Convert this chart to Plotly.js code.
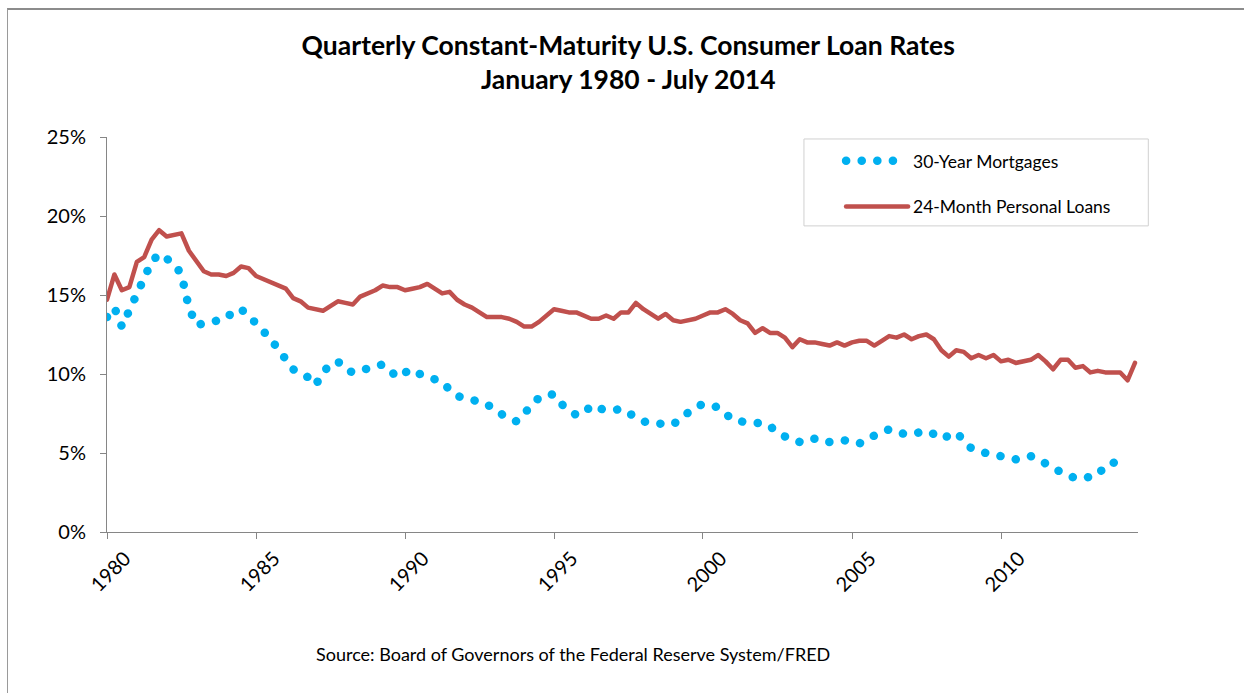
<!DOCTYPE html>
<html>
<head>
<meta charset="utf-8">
<script src="https://cdn.plot.ly/plotly-3.0.1.min.js"></script>
<style>
  body { margin: 0; background: #fff; }
  #frame { position: absolute; left: 7px; top: 8px; width: 1237px; height: 685px;
           border-top: 2px solid #8c8c8c; border-left: 1px solid #9a9a9a; }
  #chart { position: absolute; left: 0; top: 0; width: 1244px; height: 693px; }
  .js-line { stroke-linecap: round; stroke-linejoin: round; }
</style>
</head>
<body>
<div id="chart"></div>
<div id="frame"></div>
<script>
// Quarterly rates, 1980 Q1 through 2014 Q3 (percent)
let startYear = 1980;

let mortgageRates = [
    13.6, 14.2, 13.0, 14.0, 15.1, 16.1, 17.1, 17.6, 17.3, 17.0,
    16.3, 14.2, 13.1, 13.2, 13.4, 13.4, 13.5, 14.0, 14.1, 13.7,
    13.1, 12.7, 12.2, 11.5, 10.9, 10.3, 10.0, 9.8, 9.3, 10.1,
    10.6, 10.8, 10.3, 10.1, 10.2, 10.4, 10.5, 10.6, 10.2, 9.8,
    10.1, 10.3, 10.0, 9.8, 9.6, 9.5, 9.0, 8.6, 8.5, 8.4,
    8.3, 8.1, 7.7, 7.4, 7.2, 7.0, 7.5, 8.0, 8.5, 8.7,
    8.7, 8.1, 7.7, 7.4, 7.5, 8.0, 7.8, 7.7, 7.7, 7.8,
    7.5, 7.2, 7.0, 6.9, 6.9, 6.9, 6.8, 7.2, 7.6, 7.9,
    8.1, 8.0, 7.9, 7.5, 7.1, 7.0, 6.9, 6.9, 6.9, 6.7,
    6.3, 6.0, 5.8, 5.7, 5.9, 5.9, 5.7, 5.7, 5.8, 5.8,
    5.7, 5.6, 5.9, 6.1, 6.3, 6.5, 6.4, 6.2, 6.2, 6.3,
    6.4, 6.2, 5.9, 6.1, 6.3, 5.8, 5.3, 5.1, 5.0, 4.9,
    4.9, 4.8, 4.6, 4.7, 4.8, 4.6, 4.3, 4.1, 3.8, 3.6,
    3.4, 3.4, 3.5, 3.6, 4.2, 4.4, 4.3, 4.2
];

let personalLoanRates = [
    14.7, 16.3, 15.3, 15.5, 17.1, 17.4, 18.5, 19.1, 18.7, 18.8,
    18.9, 17.8, 17.2, 16.5, 16.3, 16.3, 16.2, 16.4, 16.8, 16.7,
    16.2, 16.0, 15.8, 15.6, 15.4, 14.8, 14.6, 14.2, 14.1, 14.0,
    14.3, 14.6, 14.5, 14.4, 14.9, 15.1, 15.3, 15.6, 15.5, 15.5,
    15.3, 15.4, 15.5, 15.7, 15.4, 15.1, 15.2, 14.7, 14.4, 14.2,
    13.9, 13.6, 13.6, 13.6, 13.5, 13.3, 13.0, 13.0, 13.3, 13.7,
    14.1, 14.0, 13.9, 13.9, 13.7, 13.5, 13.5, 13.7, 13.5, 13.9,
    13.9, 14.5, 14.1, 13.8, 13.5, 13.8, 13.4, 13.3, 13.4, 13.5,
    13.7, 13.9, 13.9, 14.1, 13.8, 13.4, 13.2, 12.6, 12.9, 12.6,
    12.6, 12.3, 11.7, 12.2, 12.0, 12.0, 11.9, 11.8, 12.0, 11.8,
    12.0, 12.1, 12.1, 11.8, 12.1, 12.4, 12.3, 12.5, 12.2, 12.4,
    12.5, 12.2, 11.5, 11.1, 11.5, 11.4, 11.0, 11.2, 11.0, 11.2,
    10.8, 10.9, 10.7, 10.8, 10.9, 11.2, 10.8, 10.3, 10.9, 10.9,
    10.4, 10.5, 10.1, 10.2, 10.1, 10.1, 10.1, 9.6, 10.7
];

let tickYears = ['1980', '1985', '1990', '1995', '2000', '2005', '2010'];
let yTicks = [0, 5, 10, 15, 20, 25];

// date for each quarter
function quarterDates(count) {
    let dates = [];
    for (let i = 0; i < count; i++) {
        let year = startYear + Math.floor(i / 4);
        let month = 1 + 3 * (i % 4);
        dates.push(year + '-' + (month < 10 ? '0' + month : month) + '-01');
    }
    return dates;
}

let fontName = 'Lato, "Open Sans", sans-serif';

var traceMortgage = {
    x: quarterDates(mortgageRates.length),
    y: mortgageRates,
    mode: 'lines',
    name: '30-Year Mortgages',
    legendgroup: 'a',
    line: {
        color: '#00b0f0',
        width: 8.5,
        dash: '0.1px,15.5px'
    },
    hoverinfo: 'skip'
}

var tracePersonal = {
    x: quarterDates(personalLoanRates.length),
    y: personalLoanRates,
    mode: 'lines',
    name: '24-Month Personal Loans',
    legendgroup: 'b',
    line: {
        color: '#c0504d',
        width: 4.5
    },
    hoverinfo: 'skip'
}

var layout = {
    width: 1244,
    height: 693,
    margin: { l: 107, r: 106, t: 137, b: 161 },
    paper_bgcolor: 'rgba(0,0,0,0)',
    plot_bgcolor: 'rgba(0,0,0,0)',
    font: { family: fontName, color: '#000', size: 18 },
    title: {
        text: '<b>Quarterly Constant-Maturity U.S. Consumer Loan Rates<br>January 1980 - July 2014</b>',
        font: { family: fontName, size: 26.5, color: '#000' },
        x: 0.505,
        xref: 'container',
        y: 0.921,
        yref: 'container',
        yanchor: 'top'
    },
    xaxis: {
        type: 'date',
        range: ['1980-01-01', '2014-08-07'],
        tickmode: 'array',
        tickvals: tickYears.map(function (y) { return y + '-01-01'; }),
        ticktext: tickYears,
        tickangle: -45,
        ticklabelshift: 18,
        ticks: 'outside',
        ticklen: 6,
        tickcolor: '#868686',
        showline: true,
        linecolor: '#868686',
        linewidth: 1,
        showgrid: false,
        zeroline: false,
        tickfont: { size: 20, color: '#000' }
    },
    yaxis: {
        range: [0, 25],
        tickmode: 'array',
        tickvals: yTicks,
        ticktext: yTicks.map(function (v) { return v + '%'; }),
        ticks: 'outside',
        ticklen: 6,
        ticklabelstandoff: 10,
        tickcolor: '#868686',
        showline: true,
        linecolor: '#868686',
        linewidth: 1,
        showgrid: false,
        zeroline: false,
        tickfont: { size: 20, color: '#000' }
    },
    showlegend: true,
    legend: {
        x: 0.712,
        xanchor: 'left',
        y: 0.985,
        yanchor: 'top',
        bgcolor: 'rgba(0,0,0,0)',
        borderwidth: 0,
        itemwidth: 62,
        tracegroupgap: 20,
        font: { family: fontName, size: 17.5, color: '#000' }
    },
    shapes: [{
        type: 'rect',
        xref: 'paper', yref: 'paper',
        x0: 0.676, x1: 1.01, y0: 0.775, y1: 0.995,
        line: { color: '#d0d0d0', width: 1 },
        fillcolor: 'rgba(0,0,0,0)'
    }],
    annotations: [{
        text: 'Source: Board of Governors of the Federal Reserve System/FRED',
        xref: 'paper', yref: 'paper',
        x: 0.452, y: -0.31,
        xanchor: 'center', yanchor: 'middle',
        showarrow: false,
        font: { family: fontName, size: 18, color: '#000' }
    }]
}

Plotly.newPlot('chart', [traceMortgage, tracePersonal], layout, { staticPlot: true });
</script>
</body>
</html>
